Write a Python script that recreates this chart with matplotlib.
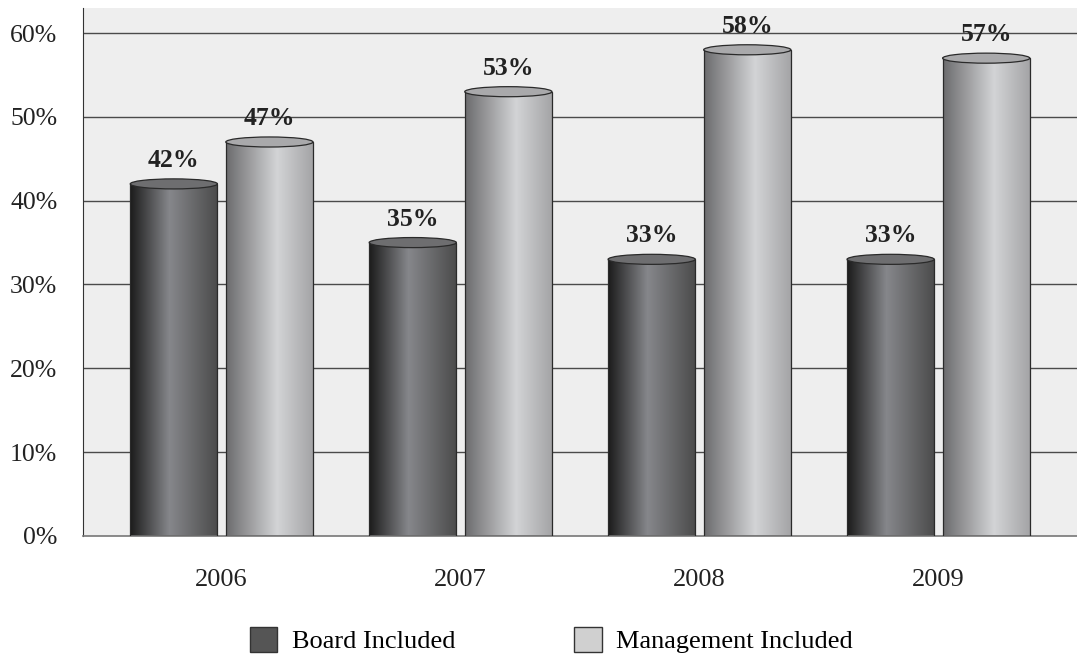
import numpy as np
import matplotlib.pyplot as plt
from matplotlib.colors import LinearSegmentedColormap
from matplotlib.patches import Ellipse, Rectangle

years = ['2006', '2007', '2008', '2009']
board = [42, 35, 33, 33]
management = [47, 53, 58, 57]

plt.rcParams['font.family'] = ['Liberation Serif', 'DejaVu Serif']

board_cmap = LinearSegmentedColormap.from_list(
    'board', [(0, '#1b1b1b'), (0.45, '#86878b'), (1, '#4b4b4b')])
mgmt_cmap = LinearSegmentedColormap.from_list(
    'mgmt', [(0, '#6c6c6e'), (0.58, '#d3d4d6'), (1, '#a3a3a5')])

fig = plt.figure(figsize=(10.77, 6.56), dpi=100)
ax = fig.add_axes([0.0771, 0.183, 0.9229, 0.805])
ax.set_facecolor('#eeeeee')

x = np.arange(len(years))
width = 0.365
offset = 0.2
grad = np.linspace(0, 1, 256).reshape(1, -1)
ell_h = 1.2


def cylinders(xs, values, cmap, top_color):
    bars = ax.bar(xs, values, width, facecolor='none', edgecolor='#2a2a2a',
                  linewidth=0.9, zorder=3)
    for b, v in zip(bars, values):
        x0 = b.get_x()
        im = ax.imshow(grad, extent=[x0, x0 + width, 0, v], aspect='auto',
                       cmap=cmap, zorder=2, interpolation='bilinear')
        im.set_clip_path(b)
        ax.add_patch(Ellipse((x0 + width / 2, v), width, ell_h,
                             facecolor=top_color, edgecolor='#2a2a2a',
                             linewidth=0.9, zorder=4))
        ax.text(x0 + width / 2, v + 2.8, f'{v}%', ha='center', va='center',
                fontsize=18.5, fontweight='bold', color='#222222', zorder=5)


cylinders(x - offset, board, board_cmap, '#6e6e70')
cylinders(x + offset, management, mgmt_cmap, '#a9a9ab')

ax.set_xlim(-0.58, 3.58)
ax.set_ylim(0, 63)
ax.set_yticks(range(0, 61, 10))
ax.set_yticklabels([f'{t}%' for t in range(0, 61, 10)])
ax.set_xticks(x)
ax.set_xticklabels(years)
ax.tick_params(axis='y', length=0, pad=18.5, labelsize=18.5, labelcolor='#222222')
ax.tick_params(axis='x', length=0, pad=24, labelsize=19, labelcolor='#222222')

for t in range(10, 61, 10):
    ax.axhline(t, color='#4a4a4a', linewidth=1, zorder=1)

for s in ['top', 'right']:
    ax.spines[s].set_visible(False)
ax.spines['left'].set_color('#333333')
ax.spines['bottom'].set_color('#777777')
ax.spines['bottom'].set_linewidth(1.2)

handles = [Rectangle((0, 0), 1, 1, facecolor='#555555', edgecolor='#333333'),
           Rectangle((0, 0), 1, 1, facecolor='#d0d0d0', edgecolor='#333333')]
fig.legend(handles, ['Board Included', 'Management Included'], loc='center',
           bbox_to_anchor=(0.512, 0.024), ncol=2, frameon=False, fontsize=19,
           handlelength=1.05, handleheight=1.05, columnspacing=4.5,
           handletextpad=0.55, borderpad=0)

fig.savefig('out.png', dpi=100, facecolor='white')
